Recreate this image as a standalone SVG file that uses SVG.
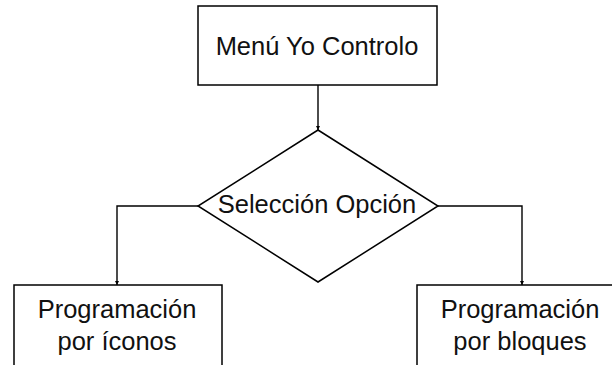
<svg xmlns="http://www.w3.org/2000/svg" width="612" height="365" viewBox="0 0 612 365">
<style>
.box{fill:#fff;stroke:#000;stroke-width:1.5}
.con{fill:none;stroke:#000;stroke-width:1.4}
.t{font-family:"Liberation Sans",Arial,sans-serif;font-size:25.5px;fill:#111;text-anchor:middle}
</style>
<defs>
<marker id="ah" viewBox="0 0 6 6" refX="6" refY="3" markerWidth="4" markerHeight="4" markerUnits="userSpaceOnUse" orient="auto">
<path d="M0,0 L6,3 L0,6 Z" fill="#000"/>
</marker>
</defs>
<rect width="612" height="365" fill="#fff"/>
<g id="connectors">
<path class="con" d="M318,85 V130" marker-end="url(#ah)"/>
<path class="con" d="M198,206 H117 V285" marker-end="url(#ah)"/>
<path class="con" d="M438,206 H522 V285" marker-end="url(#ah)"/>
</g>
<g id="menu">
<rect class="box" x="198" y="6" width="239" height="79"/>
<text class="t" x="317" y="55">Menú Yo Controlo</text>
</g>
<g id="seleccion">
<polygon class="box" points="318,130 438,206 318,282 198,206"/>
<text class="t" x="317" y="213">Selección Opción</text>
</g>
<g id="iconos">
<rect class="box" x="14" y="285" width="208" height="100"/>
<text class="t" x="117" y="318">Programación</text>
<text class="t" x="117" y="350">por íconos</text>
</g>
<g id="bloques">
<rect class="box" x="417" y="285" width="210" height="100"/>
<text class="t" x="520" y="318">Programación</text>
<text class="t" x="520" y="350">por bloques</text>
</g>
</svg>
